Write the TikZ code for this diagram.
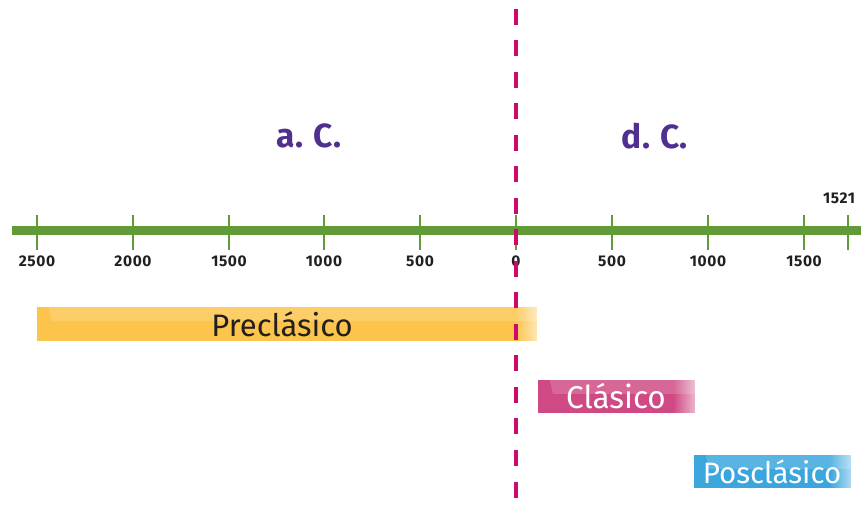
\documentclass[tikz,border=0pt]{standalone}
\usepackage{fontspec}
\setmainfont{Fira Sans}
\newfontfamily\ticksfont{Fira Sans}[LetterSpace=4]
\usetikzlibrary{fadings}
\definecolor{tlgreen}{HTML}{629A37}
\definecolor{eramag}{HTML}{CC0A6E}
\definecolor{erapurple}{HTML}{50308F}
\definecolor{preyel}{HTML}{FDC44B}
\definecolor{clapink}{HTML}{CF4A84}
\definecolor{posblue}{HTML}{3AA6DD}
\definecolor{txtdark}{HTML}{231F20}
\tikzfading[name=glowright, left color=transparent!100, right color=transparent!0]
\begin{document}
\begin{tikzpicture}[x=1pt,y=-1pt,
  ticklab/.style={font=\ticksfont\fontsize{15.5}{15.5}\selectfont\bfseries, text=txtdark, inner sep=0pt},
  eralab/.style={font=\fontsize{33.5}{33.5}\selectfont\bfseries, text=erapurple, inner sep=0pt},
  tickline/.style={draw=tlgreen, line width=2.6pt},
  bar/.style={inner sep=0pt, minimum height=34pt},
  bartxt/.style={inner sep=0pt, font=\fontsize{31}{31}\selectfont},
  gloss/.style={white, opacity=0.16},
  glow/.style={white, path fading=glowright, opacity=0.6}
]
\useasboundingbox (0,0) rectangle (865,510);
% timeline
\coordinate (tlL) at (12,230.5);
\coordinate (tlR) at (861,230.5);
\draw[draw=tlgreen, line width=9pt] (tlL) -- (tlR);
\foreach \x/\lab [count=\i] in {37/2500,133/2000,229/1500,324/1000,420/500,516/0,612/500,708/1000,804/1500}{
  \coordinate (tt\i) at (\x,215);
  \coordinate (tb\i) at (\x,250);
  \draw[tickline] (tt\i) -- (tb\i);
  \node[ticklab] (lab\i) at (\x,261) {\lab};
}
\coordinate (ttE) at (848,215);
\coordinate (tbE) at (848,250);
\draw[tickline] (ttE) -- (tbE);
\node[ticklab] (labE) at (839,198) {1521};
% era labels
\node[eralab] (ac) at (309,136) {a. C.};
\node[eralab] (dc) at (655,136) {d. C.};
% bars
\node[bar, fill=preyel, minimum width=500pt] (pre) at (287,324) {};
\fill[gloss] ([xshift=12pt]pre.north west) -- (pre.north east) -- ([yshift=-14pt]pre.north east) -- ([xshift=15pt,yshift=-14pt]pre.north west) -- cycle;
\fill[glow] ([xshift=-22pt]pre.north east) rectangle (pre.south east);
\node[bartxt, text=txtdark] (pretxt) at (282,324) {Preclásico};

\node[bar, fill=clapink, minimum width=157pt, minimum height=33pt] (cla) at (616.5,396.5) {};
\fill[gloss] ([xshift=12pt]cla.north west) -- (cla.north east) -- ([yshift=-14pt]cla.north east) -- ([xshift=15pt,yshift=-14pt]cla.north west) -- cycle;
\fill[glow] ([xshift=-22pt]cla.north east) rectangle (cla.south east);
\node[bartxt, text=white, font=\fontsize{31.5}{31.5}\selectfont] (clatxt) at (616,396.5) {Clásico};

\node[bar, fill=posblue, minimum width=157pt, minimum height=33pt] (pos) at (772.5,471.5) {};
\fill[gloss] ([xshift=12pt]pos.north west) -- (pos.north east) -- ([yshift=-14pt]pos.north east) -- ([xshift=15pt,yshift=-14pt]pos.north west) -- cycle;
\fill[glow] ([xshift=-22pt]pos.north east) rectangle (pos.south east);
\node[bartxt, text=white, font=\fontsize{29.5}{29.5}\selectfont] (postxt) at (772,471.5) {Posclásico};
% era divider
\coordinate (divT) at (516,9);
\coordinate (divB) at (516,515);
\draw[eramag, line width=4pt, dash pattern=on 16pt off 15.5pt] (divT) -- (divB);
\end{tikzpicture}
\end{document}
